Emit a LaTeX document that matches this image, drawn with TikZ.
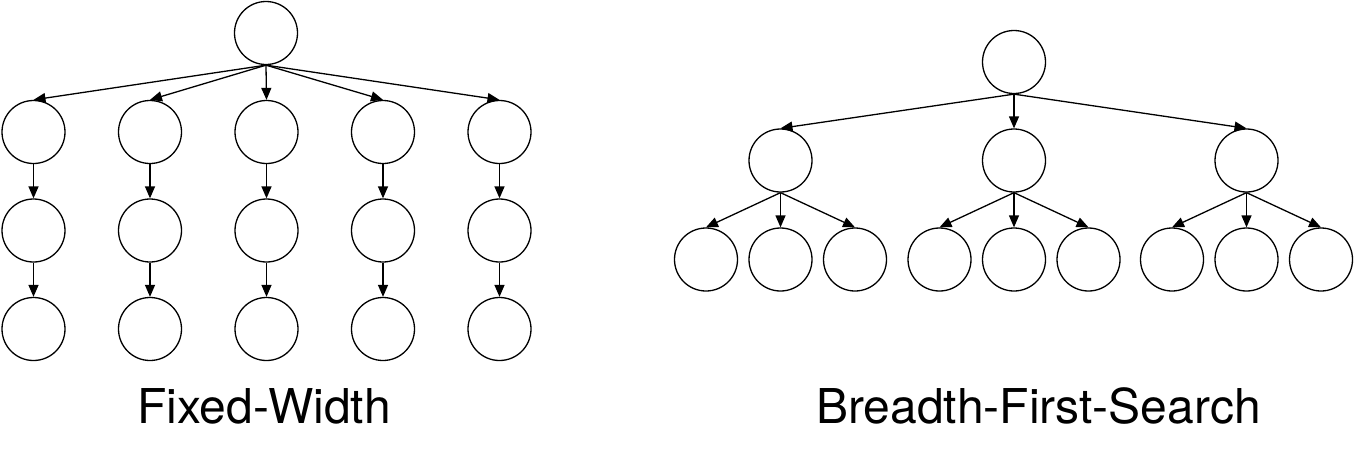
\documentclass[tikz,border=0pt]{standalone}
\usepackage{fontspec}
\setmainfont{TeX Gyre Heros}
\usetikzlibrary{arrows.meta}

\tikzset{
  vertex/.style={circle,draw,line width=1.3pt,minimum size=63pt,inner sep=0pt},
  edge/.style={line width=1.3pt,-{Triangle[length=12pt,width=10pt]}},
  caption/.style={anchor=base,font=\fontsize{48pt}{52pt}\selectfont}
}

\begin{document}
\begin{tikzpicture}[x=1pt,y=-1pt]
\useasboundingbox (0,0) rectangle (1354,467);
% fixed width tree
\node[vertex] (f0) at (266,33) {};
\node[vertex] (f1a) at (33.5,132) {};
\node[vertex] (f2a) at (150,132) {};
\node[vertex] (f3a) at (266.5,132) {};
\node[vertex] (f4a) at (383,132) {};
\node[vertex] (f5a) at (499.5,132) {};
\node[vertex] (f1b) at (33.5,230.5) {};
\node[vertex] (f2b) at (150,230.5) {};
\node[vertex] (f3b) at (266.5,230.5) {};
\node[vertex] (f4b) at (383,230.5) {};
\node[vertex] (f5b) at (499.5,230.5) {};
\node[vertex] (f1c) at (33.5,329) {};
\node[vertex] (f2c) at (150,329) {};
\node[vertex] (f3c) at (266.5,329) {};
\node[vertex] (f4c) at (383,329) {};
\node[vertex] (f5c) at (499.5,329) {};
\draw[edge] (f0.south)--(f1a.north);
\draw[edge] (f0.south)--(f2a.north);
\draw[edge] (f0.south)--(f3a.north);
\draw[edge] (f0.south)--(f4a.north);
\draw[edge] (f0.south)--(f5a.north);
\draw[edge] (f1a)--(f1b);
\draw[edge] (f2a)--(f2b);
\draw[edge] (f3a)--(f3b);
\draw[edge] (f4a)--(f4b);
\draw[edge] (f5a)--(f5b);
\draw[edge] (f1b)--(f1c);
\draw[edge] (f2b)--(f2c);
\draw[edge] (f3b)--(f3c);
\draw[edge] (f4b)--(f4c);
\draw[edge] (f5b)--(f5c);
\node[caption] (fw) at (264,423) {Fixed-Width};
% breadth first tree
\node[vertex] (b0) at (1014,62) {};
\node[vertex] (b1) at (780.5,160.5) {};
\node[vertex] (b2) at (1014,160.5) {};
\node[vertex] (b3) at (1246.5,160.5) {};
\node[vertex] (b11) at (706,259.5) {};
\node[vertex] (b12) at (780.5,259.5) {};
\node[vertex] (b13) at (855,259.5) {};
\node[vertex] (b21) at (939.5,259.5) {};
\node[vertex] (b22) at (1014,259.5) {};
\node[vertex] (b23) at (1088.5,259.5) {};
\node[vertex] (b31) at (1172,259.5) {};
\node[vertex] (b32) at (1246.5,259.5) {};
\node[vertex] (b33) at (1321,259.5) {};
\draw[edge] (b0.south)--(b1.north);
\draw[edge] (b0.south)--(b2.north);
\draw[edge] (b0.south)--(b3.north);
\draw[edge] (b1.south)--(b11.north);
\draw[edge] (b1.south)--(b12.north);
\draw[edge] (b1.south)--(b13.north);
\draw[edge] (b2.south)--(b21.north);
\draw[edge] (b2.south)--(b22.north);
\draw[edge] (b2.south)--(b23.north);
\draw[edge] (b3.south)--(b31.north);
\draw[edge] (b3.south)--(b32.north);
\draw[edge] (b3.south)--(b33.north);
\node[caption] (bfs) at (1038.5,423) {Breadth-First-Search};
\end{tikzpicture}
\end{document}
